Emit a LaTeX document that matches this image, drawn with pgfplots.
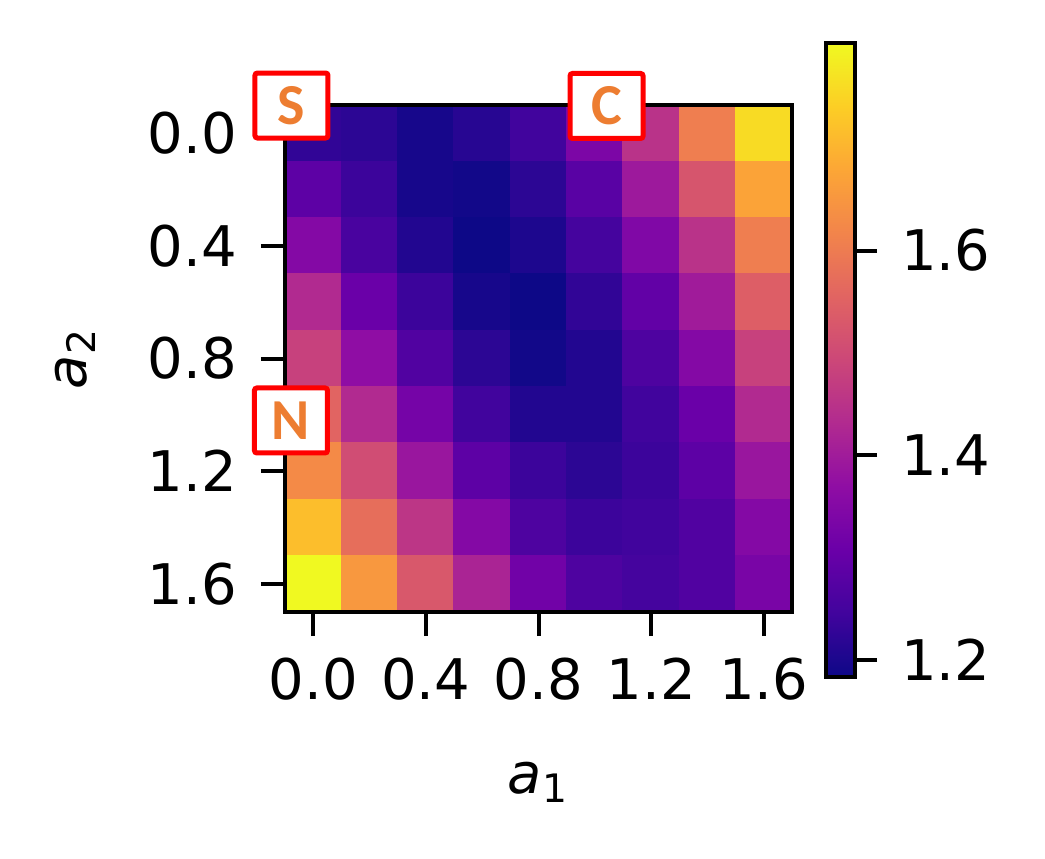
\documentclass[border=0pt]{standalone}
\usepackage{pgfplots}
\pgfplotsset{compat=1.18}
\usepackage{fontspec}
\setmainfont{DejaVu Sans}
\newfontfamily\carlito{Carlito}
\definecolor{lblorange}{HTML}{ED7D31}
\pgfplotsset{
  colormap={plasma}{
    rgb255=(13,8,135) rgb255=(65,4,157) rgb255=(106,0,168) rgb255=(143,13,164)
    rgb255=(177,42,144) rgb255=(204,71,120) rgb255=(225,100,98) rgb255=(242,132,75)
    rgb255=(252,166,54) rgb255=(252,206,37) rgb255=(240,249,33)},
  /pgf/number format/assume math mode=true,
}
\begin{document}
\begin{tikzpicture}
\path[use as bounding box] (-71.25pt,-61.5pt) rectangle (190pt,153pt);
\begin{axis}[
  at={(0,0)}, anchor=south west,
  scale only axis, width=126.75pt, height=126.75pt,
  xmin=-0.1, xmax=1.7, ymin=-0.1, ymax=1.7, y dir=reverse,
  enlargelimits=false, clip=false, axis on top,
  axis line style={line width=1pt},
  tick align=outside, major tick length=6pt,
  every tick/.style={line width=1pt, black},
  xtick={0,0.4,0.8,1.2,1.6}, xticklabels={0.0,0.4,0.8,1.2,1.6},
  ytick={0,0.4,0.8,1.2,1.6}, yticklabels={0.0,0.4,0.8,1.2,1.6},
  xtick pos=left, ytick pos=left,
  xticklabel shift=2pt, yticklabel shift=2.5pt,
  xlabel shift=8.5pt, ylabel shift=6.25pt,
  ticklabel style={font=\fontsize{14}{16}\selectfont},
  label style={font=\fontsize{14}{16}\selectfont},
  xlabel={\textit{a}\textsubscript{1}},
  ylabel={\textit{a}\textsubscript{2}},
  colormap name=plasma, point meta min=1.183, point meta max=1.803,
  colorbar,
  colorbar style={
    at={(parent axis.north east)}, anchor=north west, xshift=0pt, yshift=15.5pt,
    width=7.25pt, height=158.5pt,
    ytick={1.2,1.4,1.6},
    yticklabel style={/pgf/number format/.cd, fixed, fixed zerofill, precision=1},
    tick align=outside, major tick length=5.5pt,
    every tick/.style={line width=1pt, black},
    axis line style={line width=1pt},
    ytick pos=right, yticklabel pos=right, yticklabel shift=2.5pt,
    ticklabel style={font=\fontsize{14}{16}\selectfont},
  },
]
\addplot[matrix plot*, mesh/cols=9, point meta=explicit] table[meta=v] {
x y v
0.0 0.0 1.226
0.2 0.0 1.220
0.4 0.0 1.195
0.6 0.0 1.214
0.8 0.0 1.245
1.0 0.0 1.338
1.2 0.0 1.450
1.4 0.0 1.605
1.6 0.0 1.760
0.0 0.2 1.288
0.2 0.2 1.239
0.4 0.2 1.195
0.6 0.2 1.189
0.8 0.2 1.220
1.0 0.2 1.282
1.2 0.2 1.394
1.4 0.2 1.524
1.6 0.2 1.673
0.0 0.4 1.350
0.2 0.4 1.257
0.4 0.4 1.208
0.6 0.4 1.183
0.8 0.4 1.202
1.0 0.4 1.251
1.2 0.4 1.344
1.4 0.4 1.450
1.6 0.4 1.605
0.0 0.6 1.431
0.2 0.6 1.307
0.4 0.6 1.239
0.6 0.6 1.195
0.8 0.6 1.183
1.0 0.6 1.226
1.2 0.6 1.295
1.4 0.6 1.400
1.6 0.6 1.543
0.0 0.8 1.481
0.2 0.8 1.369
0.4 0.8 1.270
0.6 0.8 1.220
0.8 0.8 1.189
1.0 0.8 1.208
1.2 0.8 1.264
1.4 0.8 1.350
1.6 0.8 1.481
0.0 1.0 1.555
0.2 1.0 1.431
0.4 1.0 1.326
0.6 1.0 1.245
0.8 1.0 1.208
1.0 1.0 1.208
1.2 1.0 1.245
1.4 1.0 1.307
1.6 1.0 1.431
0.0 1.2 1.629
0.2 1.2 1.505
0.4 1.2 1.388
0.6 1.2 1.288
0.8 1.2 1.239
1.0 1.2 1.220
1.2 1.2 1.239
1.4 1.2 1.288
1.6 1.2 1.388
0.0 1.4 1.716
0.2 1.4 1.574
0.4 1.4 1.456
0.6 1.4 1.350
0.8 1.4 1.264
1.0 1.4 1.239
1.2 1.4 1.245
1.4 1.4 1.270
1.6 1.4 1.350
0.0 1.6 1.803
0.2 1.6 1.654
0.4 1.6 1.530
0.6 1.6 1.419
0.8 1.6 1.319
1.0 1.6 1.264
1.2 1.6 1.251
1.4 1.6 1.270
1.6 1.6 1.332
};
\coordinate (S) at (axis cs:-0.0770,-0.0982);
\coordinate (C) at (axis cs:1.0415,-0.0965);
\coordinate (N) at (axis cs:-0.0788,1.0200);
\end{axis}
\foreach \p/\t in {S/S,C/C,N/N}{
  \node[draw=red, line width=1.25pt, fill=white, rounded corners=0.6pt,
        minimum width=18.25pt, minimum height=16.25pt,
        inner sep=0pt, text=lblorange, font=\carlito\bfseries\fontsize{14.5}{15}\selectfont] at (\p) {\t};
}
\end{tikzpicture}
\end{document}
